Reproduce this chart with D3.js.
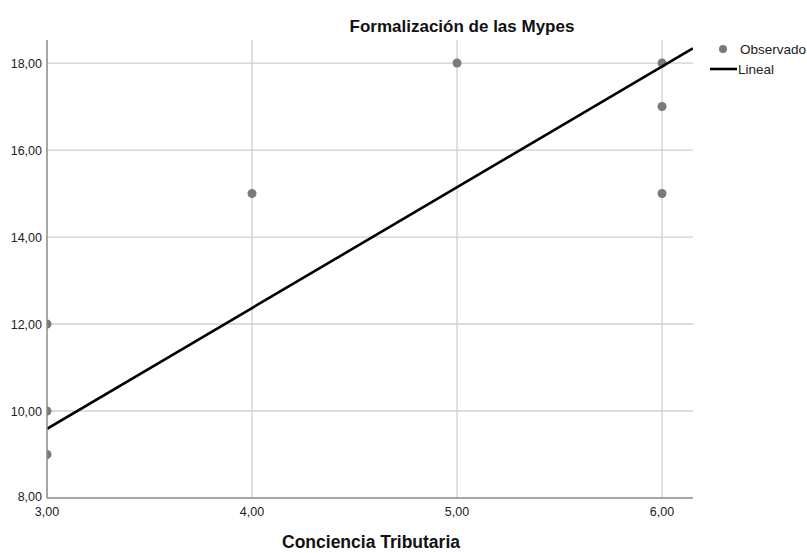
<!DOCTYPE html>
<html>
<head>
<meta charset="utf-8">
<script src="https://cdn.jsdelivr.net/npm/d3@7"></script>
<style>
  body { margin: 0; background: #fff; }
  text { font-family: "Liberation Sans", Arial, sans-serif; }
</style>
</head>
<body>
<svg id="chart"></svg>
<script>
const obsX = [3, 3, 3, 4, 5, 6, 6, 6];
const obsY = [12, 10, 9, 15, 18, 18, 17, 15];
const fitX = [3, 6.15];
const fitY = [9.59, 18.34];
const xTicks = [3, 4, 5, 6];
const yTicks = [8, 10, 12, 14, 16, 18];

const width = 807, height = 553;
const pLeft = 47, pRight = 693, pTop = 40, pBottom = 498;

const svg = d3.select('#chart').attr('width', width).attr('height', height);

const x = d3.scaleLinear().domain([3, 6.151]).range([pLeft, pRight]);
const y = d3.scaleLinear().domain([8, 18.53]).range([pBottom, pTop]);
const fmt = d => d3.format('.2f')(d).replace('.', ',');

// grid
svg.append('g').selectAll('line').data(xTicks.slice(1)).enter().append('line')
  .attr('x1', d => x(d)).attr('x2', d => x(d)).attr('y1', pTop).attr('y2', pBottom)
  .attr('stroke', '#cfcfcf').attr('stroke-width', 1.3);
svg.append('g').selectAll('line').data(yTicks.slice(1)).enter().append('line')
  .attr('x1', pLeft).attr('x2', pRight).attr('y1', d => y(d)).attr('y2', d => y(d))
  .attr('stroke', '#cfcfcf').attr('stroke-width', 1.3);

svg.append('clipPath').attr('id', 'plot').append('rect')
  .attr('x', pLeft).attr('y', pTop).attr('width', pRight - pLeft).attr('height', pBottom - pTop);

const plot = svg.append('g').attr('clip-path', 'url(#plot)');

plot.selectAll('circle').data(obsX).enter().append('circle')
  .attr('cx', d => x(d)).attr('cy', (d, i) => y(obsY[i])).attr('r', 4.5)
  .attr('fill', '#7a7a7a');

plot.append('path')
  .datum(fitX.map((d, i) => [d, fitY[i]]))
  .attr('d', d3.line().x(d => x(d[0])).y(d => y(d[1])))
  .attr('stroke', '#000').attr('stroke-width', 2.6).attr('fill', 'none');

// axes
svg.append('line').attr('x1', pLeft).attr('x2', pLeft).attr('y1', pTop).attr('y2', pBottom)
  .attr('stroke', '#8a8a8a').attr('stroke-width', 1.5);
svg.append('line').attr('x1', pLeft).attr('x2', pRight).attr('y1', pBottom).attr('y2', pBottom)
  .attr('stroke', '#8a8a8a').attr('stroke-width', 1.5);

svg.append('g').selectAll('text').data(yTicks).enter().append('text')
  .attr('x', pLeft - 5).attr('y', d => y(d) + 4.5 - (d === 8 ? 2 : 0))
  .attr('text-anchor', 'end').attr('font-size', 12.5).attr('fill', '#222')
  .text(fmt);
svg.append('g').selectAll('text').data(xTicks).enter().append('text')
  .attr('x', d => x(d)).attr('y', pBottom + 18)
  .attr('text-anchor', 'middle').attr('font-size', 12.5).attr('fill', '#222')
  .text(fmt);

svg.append('text').attr('x', 462).attr('y', 32).attr('text-anchor', 'middle')
  .attr('font-size', 17).attr('font-weight', 'bold').attr('fill', '#111')
  .text('Formalización de las Mypes');
svg.append('text').attr('x', 371).attr('y', 548).attr('text-anchor', 'middle')
  .attr('font-size', 17.5).attr('font-weight', 'bold').attr('fill', '#111')
  .text('Conciencia Tributaria');

// legend
const legend = svg.append('g');
legend.append('circle').attr('cx', 723).attr('cy', 49).attr('r', 4).attr('fill', '#7a7a7a');
legend.append('text').attr('x', 740).attr('y', 54).attr('font-size', 13.5)
  .attr('fill', '#222').text('Observado');
legend.append('line').attr('x1', 710).attr('x2', 737).attr('y1', 69).attr('y2', 69)
  .attr('stroke', '#000').attr('stroke-width', 2.6);
legend.append('text').attr('x', 738).attr('y', 74).attr('font-size', 13.5)
  .attr('fill', '#222').text('Lineal');
</script>
</body>
</html>
